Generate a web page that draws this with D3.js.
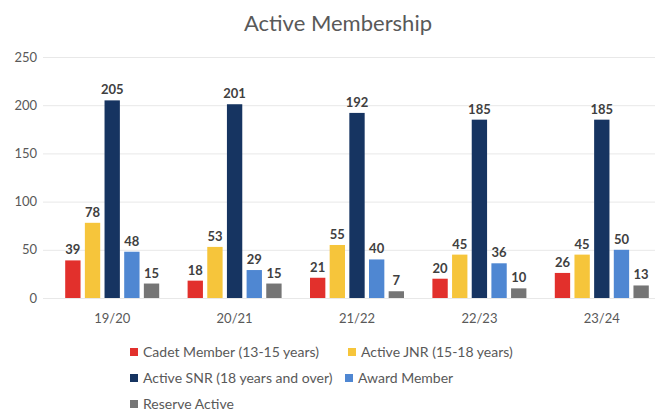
<!DOCTYPE html>
<meta charset="utf-8">
<style>
body { margin: 0; background: #fff; }
text { font-family: Lato, "Open Sans", sans-serif; }
.grid line { stroke: #e8e8e8; }
.grid .domain { display: none; }
.yaxis text, .xaxis text { fill: #595959; font-size: 13px; }
.label { fill: #404040; font-size: 13px; font-weight: bold; text-anchor: middle; }
.legend text { fill: #595959; font-size: 14px; }
</style>
<body>
<script src="https://d3js.org/d3.v7.min.js"></script>
<script>

// data
var years = ["19/20", "20/21", "21/22", "22/23", "23/24"];
var seriesNames = ["Cadet Member (13-15 years)", "Active JNR (15-18 years)",
                   "Active SNR (18 years and over)", "Award Member", "Reserve Active"];
var cadet   = [39, 18, 21, 20, 26];
var jnr     = [78, 53, 55, 45, 45];
var snr     = [205, 201, 192, 185, 185];
var award   = [48, 29, 40, 36, 50];
var reserve = [15, 15, 7, 10, 13];
var yTicks  = [0, 50, 100, 150, 200, 250];
var colors  = ["#e2302c", "#f6c53b", "#163461", "#4f87d2", "#757575"];

var allSeries = [cadet, jnr, snr, award, reserve];

var width = 663, height = 415;

var svg = d3.select("body").append("svg")
    .attr("width", width)
    .attr("height", height);

// title
svg.append("text")
    .attr("x", 338)
    .attr("y", 31)
    .attr("text-anchor", "middle")
    .style("font-size", "22px")
    .style("fill", "#595959")
    .text("Active Membership");

// scales
var x0 = d3.scaleBand().domain(years).range([51, 663]);
var x1 = d3.scaleBand().domain(d3.range(seriesNames.length))
    .range([0, 94]).paddingInner(0.22);
var y = d3.scaleLinear().domain([0, 250]).range([298, 57]);

// gridlines
svg.append("g")
    .attr("class", "grid")
    .attr("transform", "translate(43,0)")
    .call(d3.axisLeft(y).tickValues(yTicks).tickSize(-612).tickFormat(""));

// y axis labels
var yax = svg.append("g")
    .attr("class", "yaxis")
    .attr("transform", "translate(43,0)")
    .call(d3.axisLeft(y).tickValues(yTicks).tickSize(0).tickPadding(6));
yax.select(".domain").remove();

// x axis labels
var xax = svg.append("g")
    .attr("class", "xaxis")
    .attr("transform", "translate(0,298)")
    .call(d3.axisBottom(x0).tickSize(0).tickPadding(16));
xax.select(".domain").remove();

// bars
var groups = svg.selectAll(".group")
    .data(years)
  .enter().append("g")
    .attr("class", "group")
    .attr("transform", function(d) { return "translate(" + (x0(d) + x0.bandwidth() / 2 - 47) + ",0)"; });

groups.selectAll("rect")
    .data(function(d, i) { return allSeries.map(function(s, k) { return {k: k, v: s[i]}; }); })
  .enter().append("rect")
    .attr("x", function(d) { return x1(d.k); })
    .attr("y", function(d) { return y(d.v); })
    .attr("width", x1.bandwidth())
    .attr("height", function(d) { return y(0) - y(d.v); })
    .style("fill", function(d) { return colors[d.k]; });

groups.selectAll(".label")
    .data(function(d, i) { return allSeries.map(function(s, k) { return {k: k, v: s[i]}; }); })
  .enter().append("text")
    .attr("class", "label")
    .attr("x", function(d) { return x1(d.k) + x1.bandwidth() / 2; })
    .attr("y", function(d) { return y(d.v) - 6; })
    .text(function(d) { return d.v; });

// legend
var legendPos = [[130, 352], [348, 352], [130, 378], [345, 378], [130, 404]];
var legend = svg.append("g").attr("class", "legend")
    .selectAll("g")
    .data(seriesNames)
  .enter().append("g")
    .attr("transform", function(d, i) { return "translate(" + legendPos[i][0] + "," + legendPos[i][1] + ")"; });

legend.append("rect")
    .attr("x", 0).attr("y", -4)
    .attr("width", 8).attr("height", 8)
    .style("fill", function(d, i) { return colors[i]; });

legend.append("text")
    .attr("x", 13)
    .attr("y", 5)
    .text(function(d) { return d; });

</script>
</body>
